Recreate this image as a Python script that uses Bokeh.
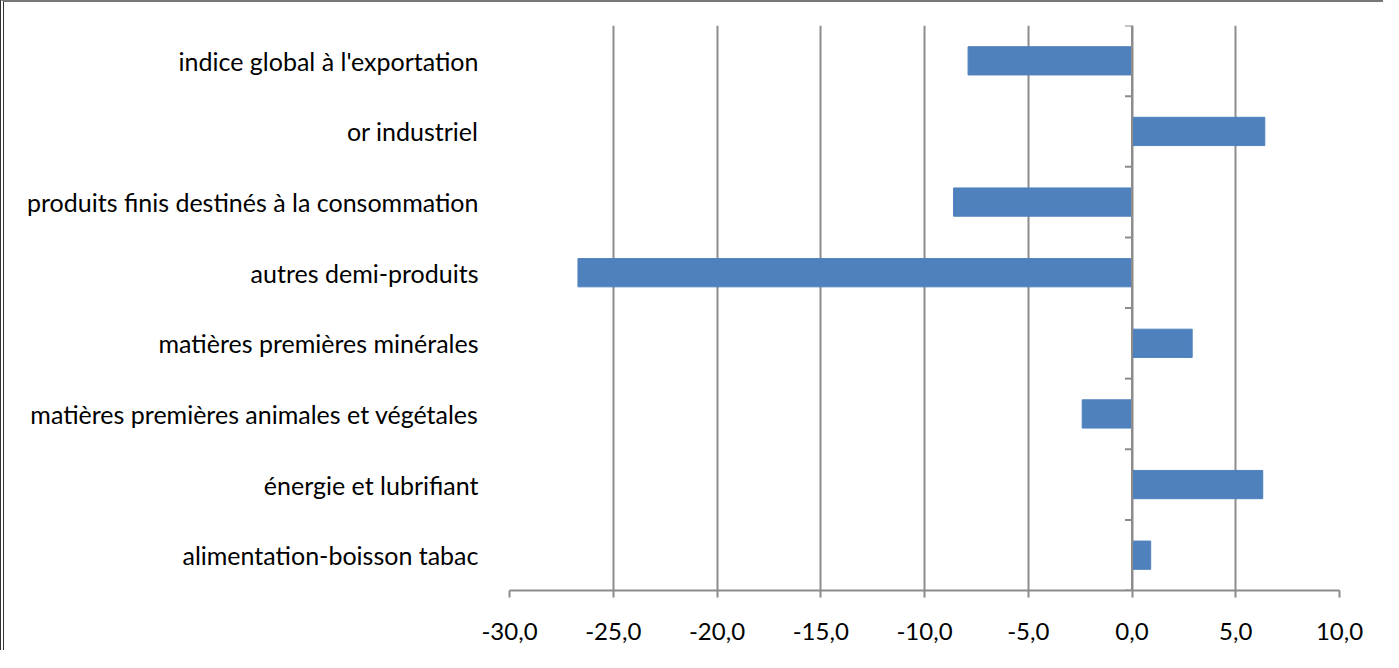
from bokeh.plotting import figure
from bokeh.models import FixedTicker, Span, ColumnDataSource, Range1d
from bokeh.embed import file_html
from bokeh.resources import INLINE

# Data (top to bottom as in the chart)
categories = [
    "indice global à l'exportation",
    "or industriel",
    "produits finis destinés à la consommation",
    "autres demi-produits",
    "matières premières minérales",
    "matières premières animales et végétales",
    "énergie et lubrifiant",
    "alimentation-boisson tabac",
]
values = [-7.9, 6.4, -8.6, -26.7, 2.9, -2.4, 6.3, 0.9]
x_ticks = [-30, -25, -20, -15, -10, -5, 0, 5, 10]
x_tick_labels = ["-30,0", "-25,0", "-20,0", "-15,0", "-10,0", "-5,0", "0,0", "5,0", "10,0"]

n = len(categories)
ypos = [n - 1 - i + 0.5 for i in range(n)]

FONT = "Lato"
GRID = "#8c8c8c"

p = figure(
    output_backend="svg", toolbar_location=None,
    frame_width=830, frame_height=565,
    min_border_left=505, min_border_right=44, min_border_top=23, min_border_bottom=60,
    x_range=Range1d(x_ticks[0], x_ticks[-1]), y_range=Range1d(0, n),
)
p.styles = {"border-left": "4px double #333", "border-top": "2px solid #777"}
p.outline_line_color = None
p.background_fill_color = "white"

src = ColumnDataSource(dict(y=ypos, v=values))
p.hbar(y="y", left=0, right="v", height=0.4, source=src,
       fill_color="#4F81BD", line_color="#4F81BD")

# x axis
p.xaxis.ticker = FixedTicker(ticks=x_ticks)
p.xaxis.major_label_overrides = {t: l for t, l in zip(x_ticks, x_tick_labels)}
p.xaxis.axis_line_color = GRID
p.xaxis.axis_line_width = 2
p.xaxis.major_tick_line_color = GRID
p.xaxis.major_tick_line_width = 2
p.xaxis.major_tick_in = 0
p.xaxis.major_tick_out = 7
p.xaxis.minor_tick_line_color = None
p.xaxis.major_label_standoff = 25
p.xaxis.major_label_text_font = FONT
p.xaxis.major_label_text_font_size = "24px"
p.xaxis.major_label_text_color = "black"

# y axis (category labels)
p.yaxis.ticker = FixedTicker(ticks=ypos)
p.yaxis.major_label_overrides = {y: c for y, c in zip(ypos, categories)}
p.yaxis.axis_line_color = None
p.yaxis.major_tick_line_color = None
p.yaxis.minor_tick_line_color = None
p.yaxis.major_label_standoff = 25
p.yaxis.major_label_text_font = FONT
p.yaxis.major_label_text_font_size = "25px"
p.yaxis.major_label_text_color = "black"

# grid
p.xgrid.ticker = FixedTicker(ticks=x_ticks)
p.xgrid.grid_line_color = GRID
p.xgrid.grid_line_width = 2
p.ygrid.grid_line_color = None

# category axis at x=0 with boundary tick marks
p.add_layout(Span(location=0, dimension="height", line_color=GRID, line_width=2))
bounds = list(range(n + 1))
tick_len = 7 / (830 / (x_ticks[-1] - x_ticks[0]))
p.segment(x0=[-tick_len] * len(bounds), x1=[0] * len(bounds), y0=bounds, y1=bounds,
          line_color=GRID, line_width=2)

open("out.html", "w").write(file_html(p, INLINE))
